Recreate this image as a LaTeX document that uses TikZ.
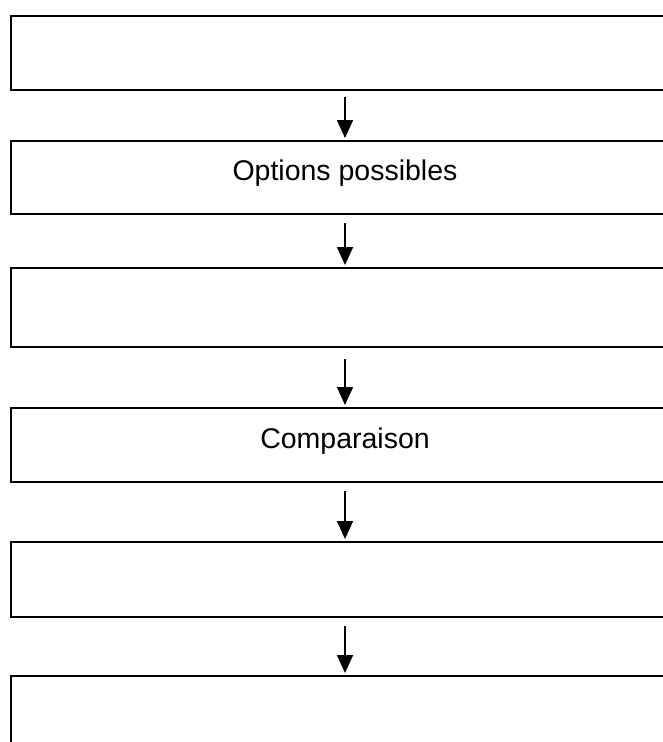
\documentclass[tikz,border=0pt]{standalone}
\usepackage{fontspec}
\setmainfont{Liberation Sans}
\usetikzlibrary{arrows.meta}
\tikzset{
  stepbox/.style={draw=black, line width=2pt, minimum width=668pt, inner sep=0pt, anchor=center},
  lbl/.style={font=\fontsize{28.5}{32}\selectfont, inner sep=0pt, anchor=center},
  arr/.style={draw=black, line width=1.6pt, -{Triangle[length=18pt,width=16pt]}, shorten >=2pt}
}
\begin{document}
\begin{tikzpicture}[x=1pt,y=-1pt]
\useasboundingbox (0,0) rectangle (663,742);
\clip (0,0) rectangle (663,742);
\node[stepbox, minimum height=74pt] (b1) at (345,53) {};
\node[stepbox, minimum height=73pt] (b2) at (345,177.5) {};
\node[stepbox, minimum height=79pt] (b3) at (345,307.5) {};
\node[stepbox, minimum height=74pt] (b4) at (345,445) {};
\node[stepbox, minimum height=75pt] (b5) at (345,579.5) {};
\node[stepbox, minimum height=100pt] (b6) at (345,726) {};
\node[lbl] (t2) at ([yshift=4pt]b2.center) {Options possibles};
\node[lbl] (t4) at ([yshift=4pt]b4.center) {Comparaison};
\draw[arr, shorten <=6pt] (b1.south) -- (b2.north);
\draw[arr, shorten <=8pt] (b2.south) -- (b3.north);
\draw[arr, shorten <=11pt] (b3.south) -- (b4.north);
\draw[arr, shorten <=8pt] (b4.south) -- (b5.north);
\draw[arr, shorten <=8pt] (b5.south) -- (b6.north);
\end{tikzpicture}
\end{document}
